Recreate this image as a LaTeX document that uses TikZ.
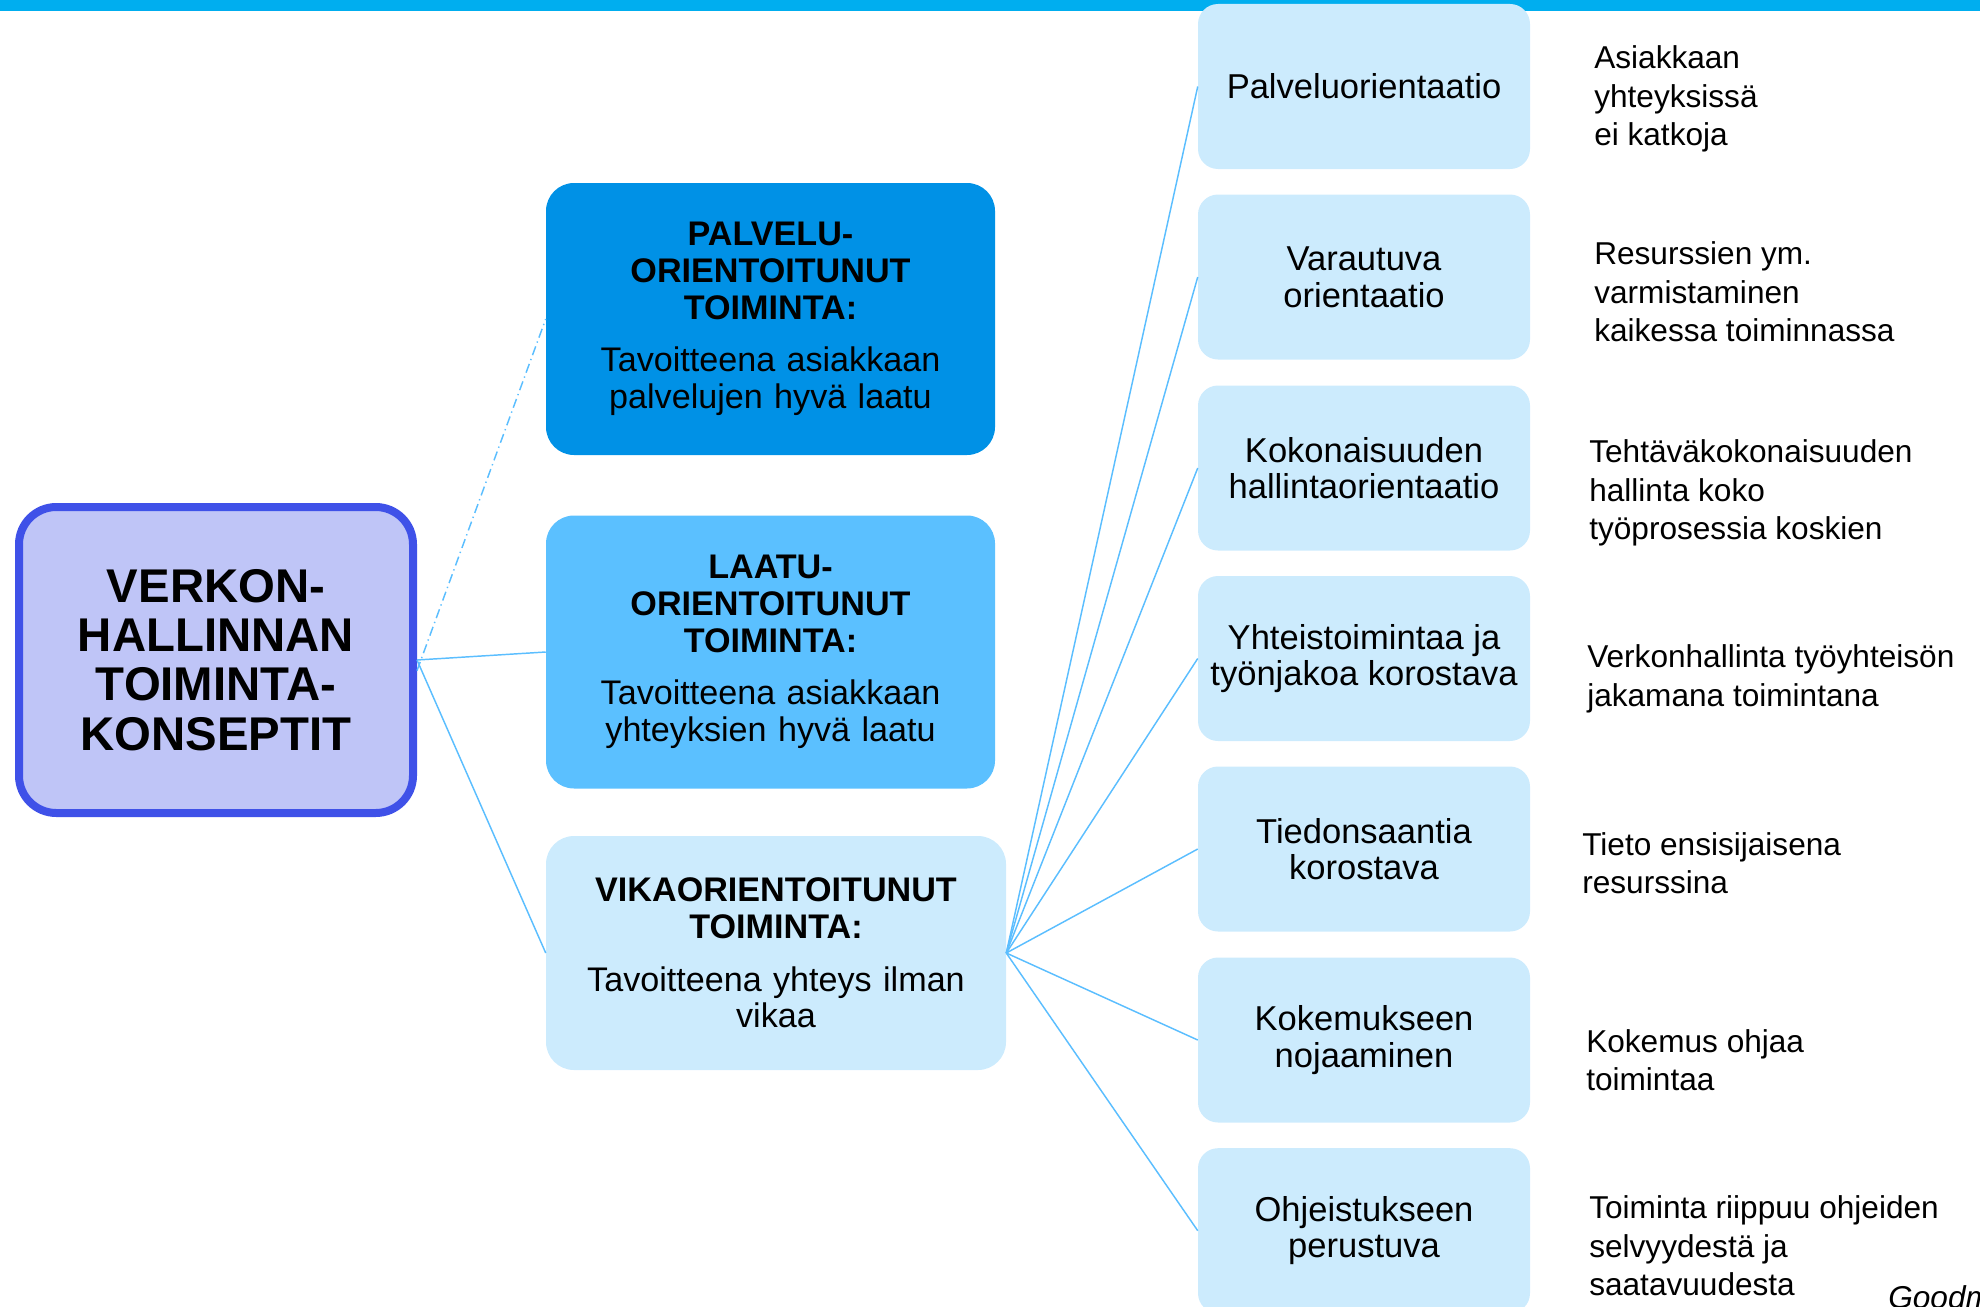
\documentclass[tikz,border=0pt]{standalone}
\usepackage{fontspec}
\setmainfont{Liberation Sans}
\definecolor{topbar}{HTML}{00AEEF}
\definecolor{darkbox}{HTML}{0091E6}
\definecolor{midbox}{HTML}{5BC0FF}
\definecolor{lightbox}{HTML}{CCEBFD}
\definecolor{rootfill}{HTML}{BFC5F7}
\definecolor{rootline}{HTML}{3F51E8}
\definecolor{linec}{HTML}{5BBEFF}
\begin{document}
\begin{tikzpicture}[x=0.75pt,y=-0.75pt,
  conn/.style={draw=linec, line width=1.1pt},
  bigbox/.style={rounded corners=21pt, inner sep=0pt, align=center, text width=320pt,
    font=\fontsize{25.6pt}{27.5pt}\selectfont},
  rbox/.style={fill=lightbox, rounded corners=15pt, inner sep=0pt, align=center,
    minimum width=249pt, minimum height=123.75pt, font=\fontsize{25.9pt}{27.5pt}\selectfont},
  rtext/.style={anchor=west, inner sep=0pt, align=left, font=\fontsize{23.7pt}{28.9pt}\selectfont}]
\clip (0,0) rectangle (1980,1306);
\useasboundingbox (0,0) rectangle (1980,1306);
\fill[topbar] (0,0) rectangle (1980,11);

% root
\node[draw=rootline, line width=6pt, fill=rootfill, rounded corners=28pt, inner sep=0pt,
  minimum width=295.5pt, minimum height=229.5pt, align=center,
  font=\fontsize{35.5pt}{37pt}\selectfont\bfseries] (root) at (216,660)
  {VERKON-\\HALLINNAN\\TOIMINTA-\\KONSEPTIT};

% middle boxes
\node[bigbox, fill=darkbox, minimum width=336.75pt, minimum height=204pt] (palv) at (770.5,319)
  {{\bfseries PALVELU-\\ORIENTOITUNUT\\TOIMINTA:}\\[12pt]Tavoitteena asiakkaan\\palvelujen hyvä laatu};
\node[bigbox, fill=midbox, minimum width=336.75pt, minimum height=204.75pt] (laatu) at (770.5,652)
  {{\bfseries LAATU-\\ORIENTOITUNUT\\TOIMINTA:}\\[12pt]Tavoitteena asiakkaan\\yhteyksien hyvä laatu};
\node[bigbox, fill=lightbox, minimum width=345pt, minimum height=175.5pt] (vika) at (776,953)
  {{\bfseries VIKAORIENTOITUNUT\\TOIMINTA:}\\[12pt]Tavoitteena yhteys ilman\\vikaa};

% right boxes
\node[rbox] (r1) at (1364,86.5) {Palveluorientaatio};
\node[rbox] (r2) at (1364,277) {Varautuva\\orientaatio};
\node[rbox] (r3) at (1364,468) {Kokonaisuuden\\hallintaorientaatio};
\node[rbox] (r4) at (1364,658.5) {Yhteistoimintaa ja\\työnjakoa korostava};
\node[rbox] (r5) at (1364,849) {Tiedonsaantia\\korostava};
\node[rbox] (r6) at (1364,1040) {Kokemukseen\\nojaaminen};
\node[rbox] (r7) at (1364,1230.7) {Ohjeistukseen\\perustuva};

% right texts
\node[rtext] (t1) at (1594,99) {Asiakkaan\\yhteyksissä\\ei katkoja};
\node[rtext] (t2) at (1594,292) {Resurssien ym.\\varmistaminen\\kaikessa toiminnassa};
\node[rtext] (t3) at (1589,493) {Tehtäväkokonaisuuden\\hallinta koko\\työprosessia koskien};
\node[rtext] (t4) at (1587,679) {Verkonhallinta työyhteisön\\jakamana toimintana};
\node[rtext] (t5) at (1582,863) {Tieto ensisijaisena\\resurssina};
\node[rtext] (t6) at (1586,1060) {Kokemus ohjaa\\toimintaa};
\node[rtext] (t7) at (1589,1246) {Toiminta riippuu ohjeiden\\selvyydestä ja\\saatavuudesta};
\node[rtext, font=\fontsize{23.7pt}{28.9pt}\selectfont\itshape] (src) at (1888,1297) {Goodm};

% connectors
\draw[conn, dash pattern=on 7pt off 3pt on 1pt off 3pt] ([yshift=-8pt]root.east) -- (palv.west);
\draw[conn] (root.east) -- (laatu.west);
\draw[conn] (root.east) -- (vika.west);
\foreach \r in {r1,r2,r3,r4,r5,r6,r7}
  \draw[conn] (vika.east) -- (\r.west);
\end{tikzpicture}
\end{document}
